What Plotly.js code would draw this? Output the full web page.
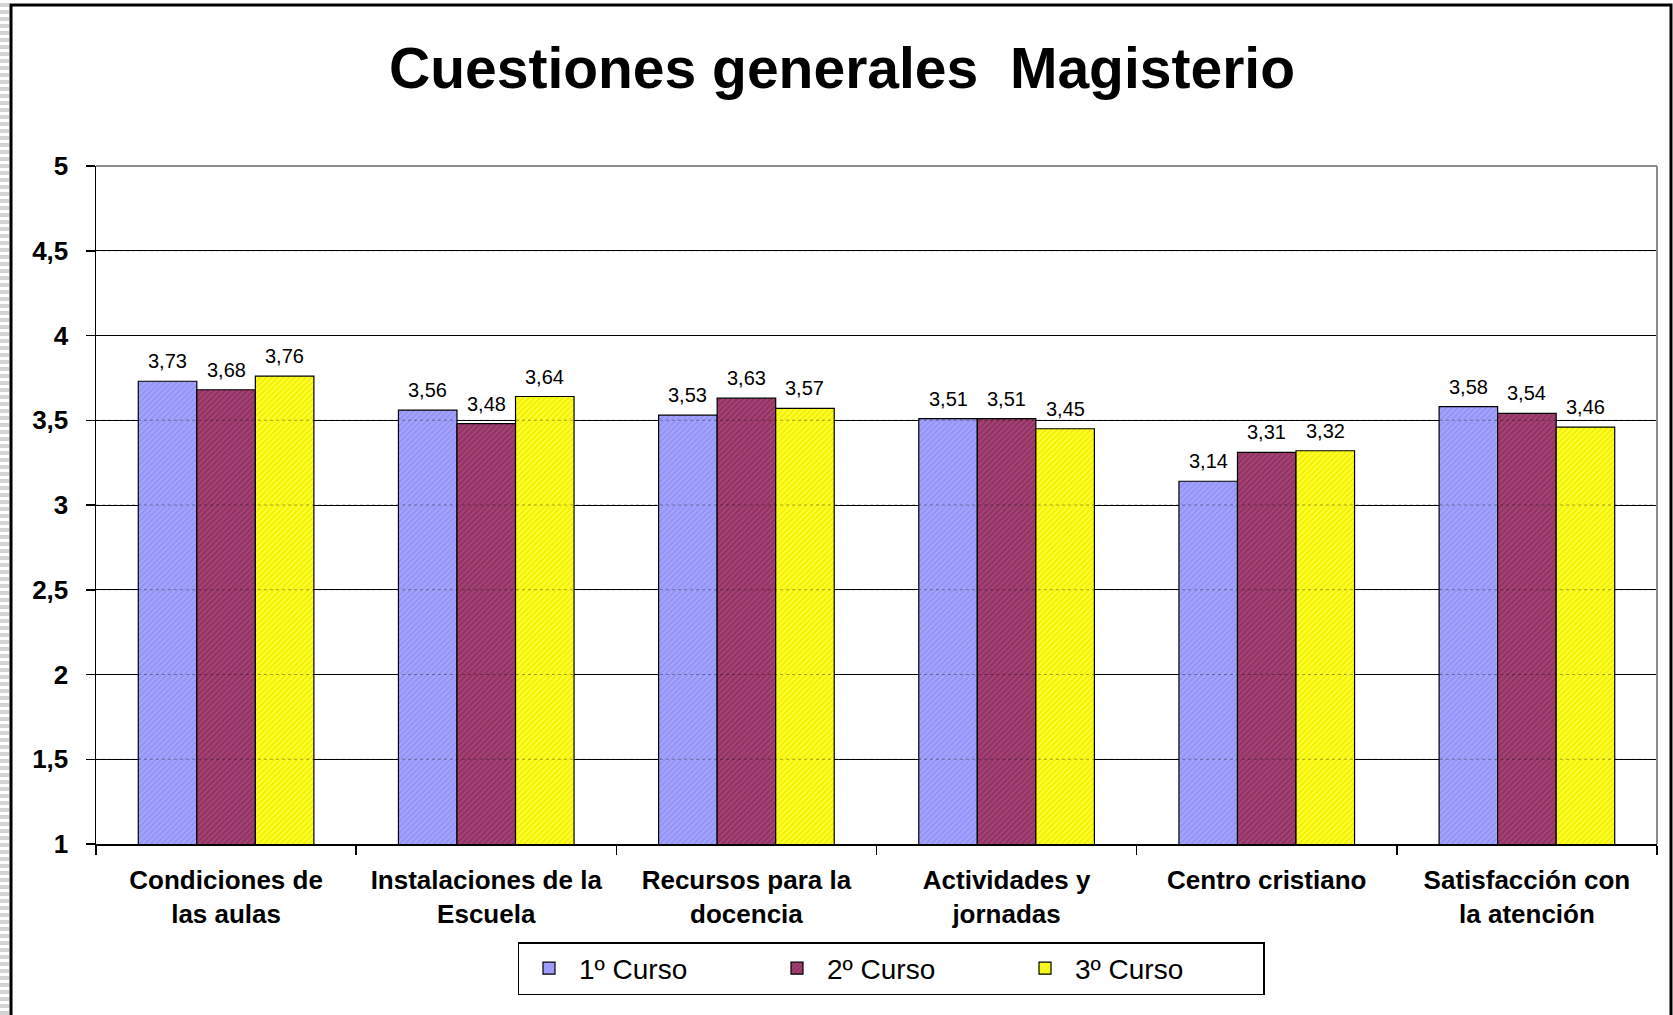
<!DOCTYPE html>
<html>
<head>
<meta charset="utf-8">
<script src="https://cdn.plot.ly/plotly-3.0.1.min.js"></script>
<style>
  html, body { margin: 0; padding: 0; background: #ffffff; }
  #stripes { position: absolute; left: 0; top: 0; width: 9px; height: 1015px;
    background: repeating-linear-gradient(to bottom, #ffffff 0px, #ffffff 3px, #d4d4d4 3px, #d4d4d4 7px); z-index: 0; }
  #chart { position: absolute; left: 0; top: 0; width: 1673px; height: 1015px; z-index: 1; }
</style>
</head>
<body>
<div id="stripes"></div>
<div id="chart"></div>
<script>
// ---- data ----
const categories = [
  "Condiciones de<br>las aulas",
  "Instalaciones de la<br>Escuela",
  "Recursos para la<br>docencia",
  "Actividades y<br>jornadas",
  "Centro cristiano",
  "Satisfacción con<br>la atención"
];
const seriesNames = ["1º Curso", "2º Curso", "3º Curso"];
const curso1 = [3.73, 3.56, 3.53, 3.51, 3.14, 3.58];
const curso2 = [3.68, 3.48, 3.63, 3.51, 3.31, 3.54];
const curso3 = [3.76, 3.64, 3.57, 3.45, 3.32, 3.46];
const yTickVals = [1, 1.5, 2, 2.5, 3, 3.5, 4, 4.5, 5];

// ---- styles ----
const colors = ["#9494F4", "#933262", "#F2F200"];
const patternFg = ["#A8A8FF", "#A5487A", "#FFFF40"];
const W = 1673, H = 1015;
const M = { l: 96, r: 16, t: 166, b: 171 };
const plotW = W - M.l - M.r;
const plotH = H - M.t - M.b;
const bargap = 0.325;
const catW = plotW / categories.length;
const barW = catW * (1 - bargap) / seriesNames.length;
const FONT = "Liberation Sans, Arial, sans-serif";

const allSeries = [curso1, curso2, curso3];
const traces = allSeries.map((vals, i) => ({
  type: "bar",
  name: seriesNames[i],
  x: categories,
  y: vals,
  marker: {
    color: colors[i],
    line: { color: "#000000", width: 1.2 },
    pattern: { shape: "/", fillmode: "replace", bgcolor: colors[i], fgcolor: patternFg[i], size: 4, solidity: 0.4 }
  },
  hoverinfo: "y+name"
}));

const annotations = [];
allSeries.forEach((vals, i) => {
  vals.forEach((v, j) => {
    annotations.push({
      x: categories[j], y: v, xref: "x", yref: "y",
      text: v.toFixed(2).replace(".", ","),
      showarrow: false, yanchor: "bottom", xanchor: "center",
      xshift: (i - 1) * barW, yshift: 7,
      font: { family: FONT, size: 20, color: "#000000" }
    });
  });
});

const px2x = px => (px - M.l) / plotW;
const px2y = py => (H - M.b - py) / plotH;

// faint dotted gridlines visible through the bars
const gridThrough = yTickVals.filter(v => v > 1 && v < 5).map(v => ({
  type: "line", xref: "paper", yref: "y", x0: 0, x1: 1, y0: v, y1: v,
  line: { color: "rgba(0,0,0,0.35)", width: 1, dash: "dot" }, layer: "above"
}));

const layout = {
  width: W, height: H,
  margin: M,
  paper_bgcolor: "rgba(0,0,0,0)",
  plot_bgcolor: "#ffffff",
  separators: ",.",
  barmode: "group",
  bargap: bargap,
  bargroupgap: 0,
  font: { family: FONT, color: "#000000" },
  title: {
    text: "<b>Cuestiones generales  Magisterio</b>",
    font: { family: FONT, size: 57, color: "#000000" },
    x: 842 / W, xanchor: "center", xref: "container",
    y: 1 - 68 / H, yanchor: "middle", yref: "container"
  },
  xaxis: {
    type: "category", automargin: false,
    showline: true, linecolor: "#000000", linewidth: 1.5,
    ticks: "outside", tickson: "boundaries", ticklen: 9, tickcolor: "#000000", tickwidth: 1.5,
    ticklabelstandoff: 12,
    tickfont: { family: FONT, size: 26, color: "#000000", weight: "bold" },
    showgrid: false, zeroline: false, fixedrange: true
  },
  yaxis: {
    range: [1, 5], automargin: false,
    tickvals: yTickVals,
    ticktext: yTickVals.map(v => String(v).replace(".", ",")),
    showline: true, linecolor: "#000000", linewidth: 1.5,
    ticks: "outside", ticklen: 9, tickcolor: "#000000", tickwidth: 1.5,
    ticklabelstandoff: 12,
    tickfont: { family: FONT, size: 26, color: "#000000", weight: "bold" },
    showgrid: true, gridcolor: "#000000", gridwidth: 1,
    zeroline: false, fixedrange: true
  },
  legend: {
    orientation: "h",
    x: px2x(891), xanchor: "center",
    y: px2y(995), yanchor: "bottom",
    bgcolor: "#ffffff", bordercolor: "#000000", borderwidth: 1.5,
    itemwidth: 50,
    entrywidth: 183, entrywidthmode: "pixels",
    font: { family: FONT, size: 28, color: "#000000" }
  },
  showlegend: true,
  annotations: annotations,
  shapes: gridThrough.concat([
    { type: "line", xref: "paper", yref: "paper", x0: 0, x1: 1, y0: 1, y1: 1,
      line: { color: "#8c8c8c", width: 2 }, layer: "above" },
    { type: "line", xref: "paper", yref: "paper", x0: 1, x1: 1, y0: 0, y1: 1,
      line: { color: "#8c8c8c", width: 2 }, layer: "above" },
    { type: "rect", xref: "paper", yref: "paper",
      x0: px2x(11), x1: px2x(1671), y0: px2y(1040), y1: px2y(5),
      line: { color: "#000000", width: 3 }, fillcolor: "rgba(0,0,0,0)", layer: "above" }
  ])
};

Plotly.newPlot("chart", traces, layout, { displayModeBar: false, staticPlot: true });
</script>
</body>
</html>
